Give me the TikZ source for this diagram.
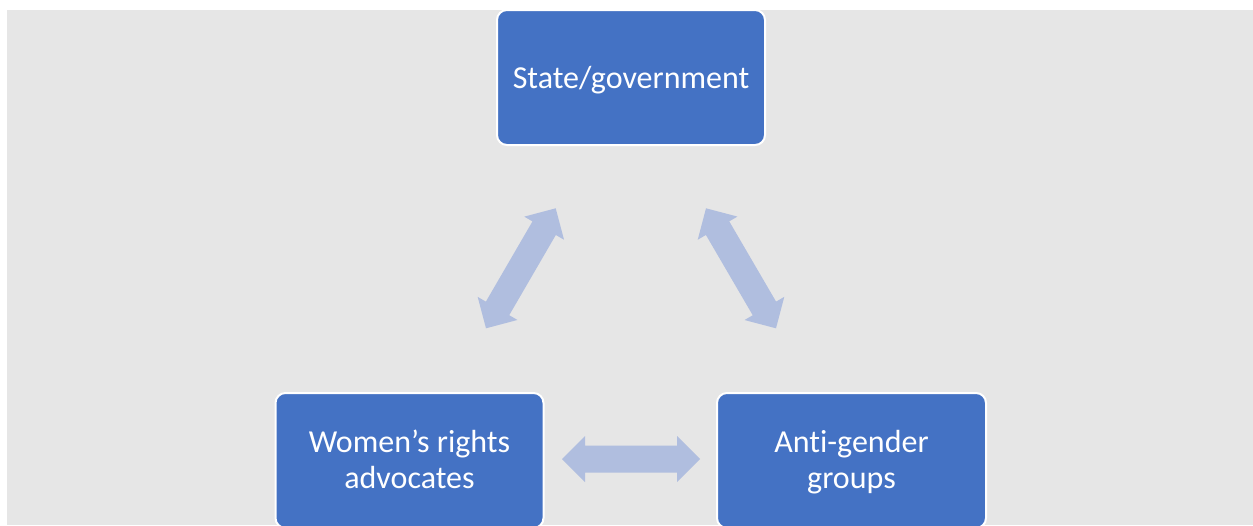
\documentclass[tikz,border=0pt]{standalone}
\usepackage{fontspec}
\setmainfont{Carlito}[Ligatures=NoCommon]
\usetikzlibrary{calc}
\definecolor{bgray}{RGB}{230,230,230}
\definecolor{boxblue}{RGB}{68,114,196}
\definecolor{arrowblue}{RGB}{176,190,223}
\newcommand{\dblarrow}[2]{%
  \fill[arrowblue] (#1)
    -- ($(#1)!17.25pt!(#2)!17.25pt!90:(#2)$)
    -- ($(#1)!17.25pt!(#2)!10.125pt!90:(#2)$)
    -- ($(#2)!17.25pt!(#1)!10.125pt!-90:(#1)$)
    -- ($(#2)!17.25pt!(#1)!17.25pt!-90:(#1)$)
    -- (#2)
    -- ($(#2)!17.25pt!(#1)!17.25pt!90:(#1)$)
    -- ($(#2)!17.25pt!(#1)!10.125pt!90:(#1)$)
    -- ($(#1)!17.25pt!(#2)!10.125pt!-90:(#2)$)
    -- ($(#1)!17.25pt!(#2)!17.25pt!-90:(#2)$)
    -- cycle;}
\tikzset{
  actor/.style={draw=white, line width=1.5pt, fill=boxblue, rounded corners=7.5pt,
    minimum width=201pt, minimum height=101.25pt, inner sep=0pt,
    text=white, align=center, font=\fontsize{24}{26.25}\selectfont}
}
\begin{document}
\begin{tikzpicture}[x=0.75pt,y=-0.75pt]
  \useasboundingbox (0,0) rectangle (1253,525);
  \fill[bgray] (7,10) rectangle (1253,525);
  \node[actor] (gov) at (631,77.5) {\raisebox{-2.25pt}[\height][\depth]{State/government}};
  \node[actor] (wra) at (409.5,460.5) {\raisebox{-2.25pt}[\height][\depth]{\begin{tabular}{@{}c@{}}Women’s rights\\[0.75pt]advocates\end{tabular}}};
  \node[actor, minimum width=201.75pt] (agg) at (851.5,460.5) {\raisebox{-2.25pt}[\height][\depth]{\begin{tabular}{@{}c@{}}Anti-gender\\[0.75pt]groups\end{tabular}}};
  \coordinate (l1) at (486,328.3);
  \coordinate (l2) at (555.7,208.3);
  \coordinate (r1) at (706,208.3);
  \coordinate (r2) at (776,328.3);
  \coordinate (h1) at (562,459);
  \coordinate (h2) at (700,459);
  \dblarrow{l1}{l2}
  \dblarrow{r1}{r2}
  \dblarrow{h1}{h2}
\end{tikzpicture}
\end{document}
